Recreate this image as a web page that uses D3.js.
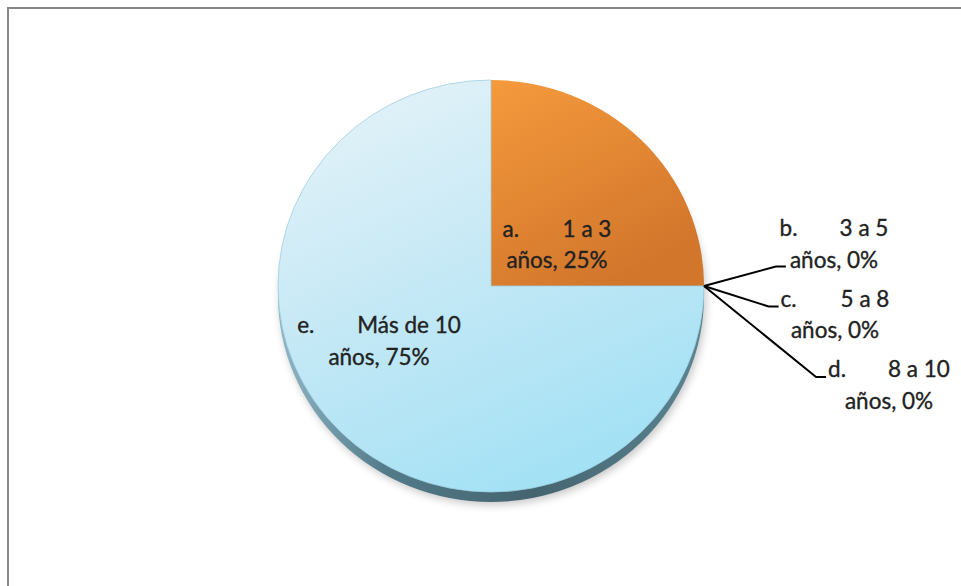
<!DOCTYPE html>
<html>
<head>
<meta charset="utf-8">
<script src="https://cdn.jsdelivr.net/npm/d3@7"></script>
<style>
  html, body { margin: 0; padding: 0; background: #fff; }
  svg { display: block; }
  text { font-family: Lato, "Open Sans", sans-serif; fill: #222; stroke: #222; stroke-width: 0.35px; }
</style>
</head>
<body>
<svg id="chart" width="961" height="586"></svg>
<script>
// Years of experience – share of respondents
const letters = ["a.", "b.", "c.", "d.", "e."];
const ranges = ["1 a 3", "3 a 5", "5 a 8", "8 a 10", "Más de 10"];
const unit = "años";
const shares = [25, 0, 0, 0, 75];
const colors = ["orange", "orange", "orange", "orange", "blue"];

const W = 961, H = 586;
const svg = d3.select("#chart");
const defs = svg.append("defs");

// chart frame
svg.append("rect")
  .attr("x", 8).attr("y", 8).attr("width", W + 20).attr("height", H + 20)
  .attr("fill", "#fff").attr("stroke", "#878787").attr("stroke-width", 2);

const cx = 491, cy = 286, r = 213, yScale = 206 / 213;

// gradients, in the pie group's local coordinates (centre at 0,0)
const og = defs.append("linearGradient").attr("id", "gOrange")
  .attr("gradientUnits", "userSpaceOnUse")
  .attr("x1", 0).attr("y1", -r).attr("x2", 110).attr("y2", 0);
og.append("stop").attr("offset", 0).attr("stop-color", "#f59a3c");
og.append("stop").attr("offset", 1).attr("stop-color", "#d2762c");

const bg = defs.append("linearGradient").attr("id", "gBlue")
  .attr("gradientUnits", "userSpaceOnUse")
  .attr("x1", -150).attr("y1", -200).attr("x2", 40).attr("y2", r);
bg.append("stop").attr("offset", 0).attr("stop-color", "#e3f2f8");
bg.append("stop").attr("offset", 0.5).attr("stop-color", "#c3e8f5");
bg.append("stop").attr("offset", 1).attr("stop-color", "#a3e1f5");

const rg = defs.append("linearGradient").attr("id", "gRim")
  .attr("gradientUnits", "userSpaceOnUse")
  .attr("x1", cx - r).attr("y1", 0).attr("x2", cx + r).attr("y2", 0);
rg.append("stop").attr("offset", 0).attr("stop-color", "#8fb7c6");
rg.append("stop").attr("offset", 0.25).attr("stop-color", "#537b89");
rg.append("stop").attr("offset", 0.6).attr("stop-color", "#44646f");
rg.append("stop").attr("offset", 1).attr("stop-color", "#5b8593");

const blur = defs.append("filter").attr("id", "fShadow")
  .attr("x", "-20%").attr("y", "-20%").attr("width", "140%").attr("height", "140%");
blur.append("feGaussianBlur").attr("stdDeviation", 4);

const fill = { orange: "url(#gOrange)", blue: "url(#gBlue)" };

// soft shadow and bevelled rim beneath the pie
svg.append("ellipse")
  .attr("cx", cx + 2).attr("cy", cy + 13).attr("rx", r).attr("ry", 206)
  .attr("fill", "#000").attr("opacity", 0.22).attr("filter", "url(#fShadow)");
svg.append("ellipse")
  .attr("cx", cx).attr("cy", cy + 10).attr("rx", r).attr("ry", 206)
  .attr("fill", "url(#gRim)");

const data = ranges.map((d, i) => ({ letter: letters[i], range: d, value: shares[i], color: colors[i] }));
const pie = d3.pie().sort(null).value(d => d.value).startAngle(0).endAngle(2 * Math.PI);
const arcs = pie(data);
const arc = d3.arc().innerRadius(0).outerRadius(r);

const g = svg.append("g").attr("transform", `translate(${cx},${cy}) scale(1,${yScale})`);
g.selectAll("path.slice")
  .data(arcs.filter(d => d.value > 0))
  .join("path")
  .attr("class", "slice")
  .attr("d", arc)
  .attr("fill", d => fill[d.data.color])
  .attr("stroke", d => d.data.color === "blue" ? "#9fcfe0" : "none")
  .attr("stroke-width", 0.8);

// label layout: line-1 baseline and centre, relative to the pie centre
const lineGap = 31.5, tabStop = 60, fs = 22.5;
const layout = [
  { dx: 66,  y: 236.5, inside: true },
  { dx: 343, y: 236,   attach: 2 },
  { dx: 344, y: 306.5, attach: 1 },
  { dx: 398, y: 377,   attach: 1 },
  { dx: -112, y: 333,  inside: true }
];

const labels = svg.append("g").style("font-size", fs + "px");
arcs.forEach((a, i) => {
  const L = layout[i];
  const lx = cx + L.dx;
  const t = labels.append("text").attr("y", L.y);
  const pre = t.append("tspan").text(a.data.letter);
  const rest = t.append("tspan").text(a.data.range);
  const w1 = tabStop + rest.node().getComputedTextLength();
  const x0 = lx - w1 / 2;
  pre.attr("x", x0);
  rest.attr("x", x0 + tabStop);
  const pct = Math.round(a.value / d3.sum(shares) * 100);
  const t2 = labels.append("text")
    .attr("x", lx).attr("y", L.y + lineGap)
    .attr("text-anchor", "middle")
    .text(`${unit}, ${pct}%`);

  if (!L.inside) {
    // leader from the slice's rim point to the label's left edge
    const ang = a.startAngle;
    const px = cx + Math.sin(ang) * r, py = cy - Math.cos(ang) * r * yScale;
    let ex, ey;
    if (L.attach === 2) {
      ex = lx - t2.node().getComputedTextLength() / 2 - 4;
      ey = L.y + lineGap - 1;
    } else {
      ex = x0 - 2;
      ey = L.y;
    }
    svg.append("path")
      .attr("d", d3.line()([[px, py], [ex - 10, ey], [ex, ey]]))
      .attr("fill", "none").attr("stroke", "#000").attr("stroke-width", 2);
  }
});
</script>
</body>
</html>
